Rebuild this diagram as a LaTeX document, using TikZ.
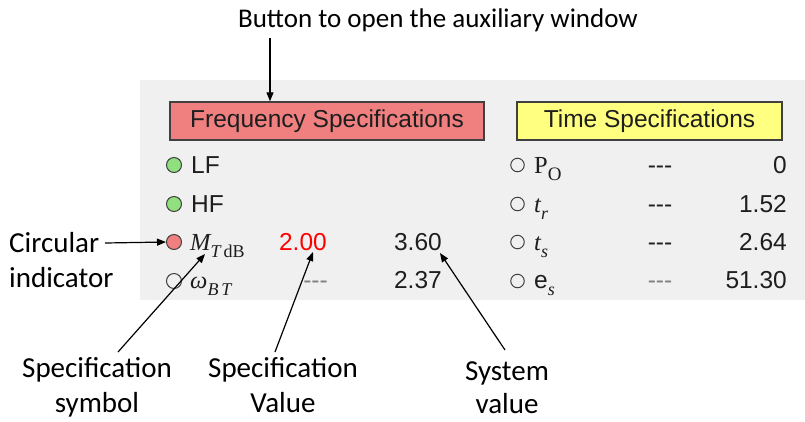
\documentclass[tikz,border=0pt]{standalone}
\usepackage{fontspec}
\setmainfont{Liberation Sans}
\newfontfamily\tms{Liberation Serif}
\newfontfamily\anfont{Carlito}
\usetikzlibrary{arrows.meta}
\definecolor{panel}{HTML}{F0F0F0}
\definecolor{btnred}{HTML}{F08080}
\definecolor{btnyel}{HTML}{FFFF80}
\definecolor{indgreen}{HTML}{90E080}
\definecolor{indred}{HTML}{F08080}
\definecolor{txt}{HTML}{1E1E1E}
\definecolor{edge}{HTML}{404040}
\newcommand\dashes{-\kern0pt-\kern0pt-}
\newcommand\subs[1]{\raisebox{-0.32em}{\fontsize{18}{18}\selectfont #1}}
\begin{document}
\begin{tikzpicture}[x=1pt,y=-1pt,
  btn/.style={draw=edge, line width=1.4pt, minimum height=38pt, inner sep=0pt,
    font=\fontsize{24.5}{24.5}\selectfont, text=txt},
  ind/.style={circle, draw=edge, line width=1pt, minimum size=15pt, inner sep=0pt},
  lbl/.style={inner sep=0pt, font=\fontsize{24.5}{24.5}\selectfont, text=txt},
  ann/.style={inner sep=0pt, font=\anfont\fontsize{29}{35}\selectfont, text=black},
  arr/.style={-{Triangle[length=9pt,width=7pt]}, line width=1.2pt, black}]
\useasboundingbox (0,0) rectangle (805,421);
\fill[white] (0,0) rectangle (805,421);
\fill[panel] (140,80) rectangle (805,300);
% buttons
\node[btn, fill=btnred, minimum width=314pt] (fbtn) at (327,121) {Frequency Specifications};
\node[btn, fill=btnyel, minimum width=265pt] (tbtn) at (649.5,121) {Time Specifications};
% left indicators
\node[ind, fill=indgreen] (c1) at (174,165) {};
\node[ind, fill=indgreen] (c2) at (174,204) {};
\node[ind, fill=indred] (c3) at (174,242) {};
\node[ind, fill=none] (c4) at (174,281) {};
\node[lbl, anchor=base west] (s1) at (191,173) {LF};
\node[lbl, anchor=base west] (s2) at (191,212) {HF};
\node[lbl, anchor=base west] (s3) at (190,250) {{\tms\itshape M}\subs{\tms\itshape T\,\upshape dB}};
\node[lbl, anchor=base west] (s4) at (190,288) {{\tms\itshape ω}\subs{\tms\itshape B\,T}};
\node[lbl, anchor=base east, text=red] (v3a) at (327,250) {2.00};
\node[lbl, anchor=base east] (v3b) at (442,250) {3.60};
\node[lbl, anchor=base east, text=gray] (v4a) at (328,288) {\dashes};
\node[lbl, anchor=base east] (v4b) at (442,288) {2.37};
% right indicators
\node[ind, minimum size=13.5pt] (d1) at (517.5,165) {};
\node[ind, minimum size=13.5pt] (d2) at (517.5,204) {};
\node[ind, minimum size=13.5pt] (d3) at (517.5,242) {};
\node[ind, minimum size=13.5pt] (d4) at (517.5,281) {};
\node[lbl, anchor=base west] (r1) at (534,173) {{\tms P}\subs{\fontsize{19}{19}\selectfont\tms O}};
\node[lbl, anchor=base west] (r2) at (534,212) {{\tms\itshape t}\subs{\tms\itshape r}};
\node[lbl, anchor=base west] (r3) at (534,250) {{\tms\itshape t}\subs{\tms\itshape s}};
\node[lbl, anchor=base west] (r4) at (534,288) {e\subs{\tms\itshape s}};
\node[lbl, anchor=base] (q1) at (660,173) {\dashes};
\node[lbl, anchor=base] (q2) at (660,212) {\dashes};
\node[lbl, anchor=base] (q3) at (660,250) {\dashes};
\node[lbl, anchor=base, text=gray] (q4) at (660,288) {\dashes};
\node[lbl, anchor=base east] (w1) at (787,173) {0};
\node[lbl, anchor=base east] (w2) at (787,212) {1.52};
\node[lbl, anchor=base east] (w3) at (787,250) {2.64};
\node[lbl, anchor=base east] (w4) at (787,288) {51.30};
% annotations
\node[ann, font=\anfont\fontsize{27}{27}\selectfont, anchor=base] (title) at (438,27) {Button to open the auxiliary window};
\coordinate (ta) at (270,38);
\draw[arr] (ta) -- (ta |- fbtn.north);
\node[ann, anchor=north west, align=left] (circ) at (9,232) {Circular\\indicator};
\coordinate (ca) at (105,243);
\draw[arr] (ca) -- (c3.west);
\node[ann, anchor=north, align=center] (lab1) at (97,357) {Specification\\symbol};
\node[ann, anchor=north, align=center] (lab2) at (283,357) {Specification\\Value};
\node[ann, anchor=north, align=center, font=\anfont\fontsize{29}{33}\selectfont] (lab3) at (507,361) {System\\value};
\coordinate (a1) at (118,352);
\coordinate (t1) at (205,254);
\coordinate (a2) at (275,352);
\coordinate (t2) at (313,252);
\coordinate (a3) at (505,350);
\coordinate (t3) at (440,253);
\draw[arr] (a1) -- (t1);
\draw[arr] (a2) -- (t2);
\draw[arr] (a3) -- (t3);
\end{tikzpicture}
\end{document}
